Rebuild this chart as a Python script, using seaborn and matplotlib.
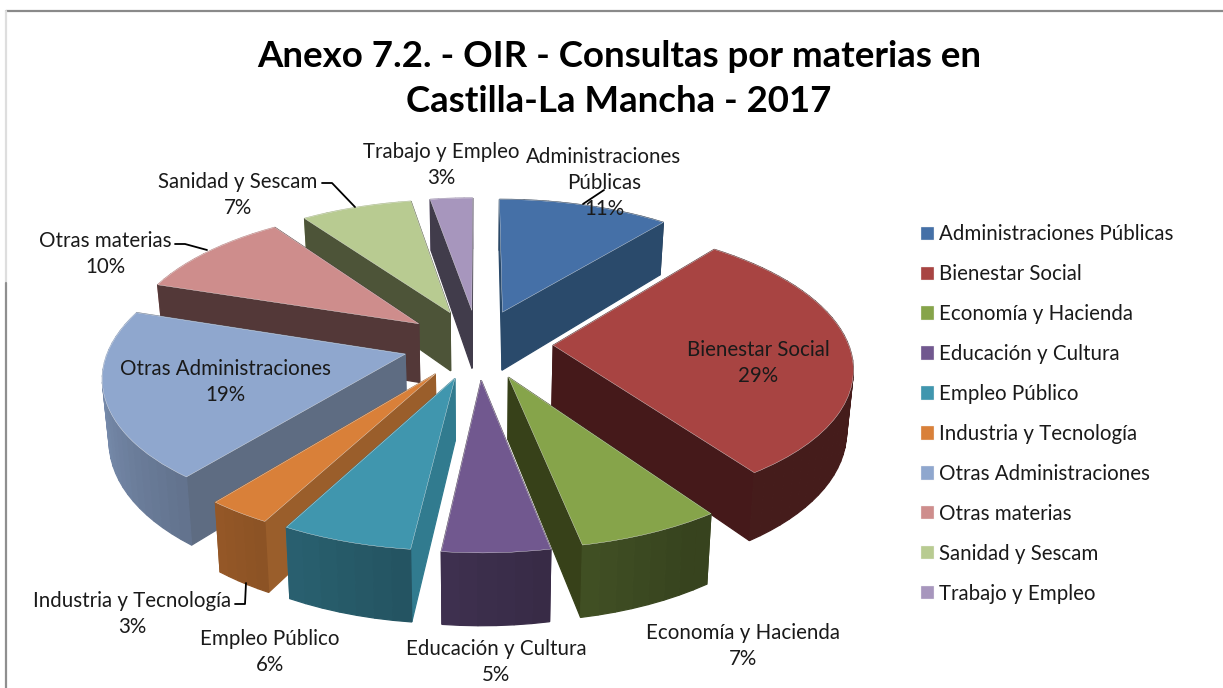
import numpy as np
import matplotlib
matplotlib.use('Agg')
import matplotlib.pyplot as plt
from matplotlib.transforms import Transform
import seaborn as sns

# Data
materias = ['Administraciones Públicas', 'Bienestar Social', 'Economía y Hacienda',
            'Educación y Cultura', 'Empleo Público', 'Industria y Tecnología',
            'Otras Administraciones', 'Otras materias', 'Sanidad y Sescam', 'Trabajo y Empleo']
porcentajes = [10.9, 29.4, 6.6, 4.9, 6.0, 2.95, 19.25, 10.2, 7.1, 2.7]
titulo = 'Anexo 7.2. - OIR - Consultas por materias en\nCastilla-La Mancha - 2017'

# Colours: top face, flat side face
top_colours = ['#4570a7', '#a84442', '#86a44a', '#71588f', '#4096ae',
               '#d98039', '#8fa7ce', '#ce8d8c', '#b8cb91', '#a796bd']
side_colours = ['#2a4a6b', '#45191a', '#374119', '#3d2c4a', '#317b8f',
                '#9a5e2b', '#5e6c82', '#533838', '#4d5438', '#413c4b']

sns.set_theme(style='white')
plt.rcParams['font.family'] = ['Lato', 'DejaVu Sans']

# Projection of the pie plane into image pixels
CX, CY = 478, 344
SCALE_X, SCALE_Y = 295, 137
TILT = 0.141
DEPTH = 60
EXPLODE = 0.255


def project(x, y, z=0.0):
    x, y = np.asarray(x, float), np.asarray(y, float)
    w = 1 + TILT * y
    return CX + SCALE_X * x * (1 - 0.018 * z) / w, CY - SCALE_Y * y / w + z * DEPTH / w


class Perspective(Transform):
    input_dims = output_dims = 2
    is_separable = False

    def transform_non_affine(self, values):
        values = np.asarray(values)
        return np.column_stack(project(values[:, 0], values[:, 1]))


def polar(theta, radius=1.0):
    t = np.radians(theta)
    return radius * np.sin(t), radius * np.cos(t)


fig = plt.figure(figsize=(12.23, 6.88), dpi=100)
ax = fig.add_axes([0, 0, 1, 1])

wedges, _ = ax.pie(porcentajes, colors=sns.color_palette(top_colours), startangle=90,
                   counterclock=False, explode=[EXPLODE] * len(porcentajes))

edges = np.cumsum([0] + porcentajes) * 3.6
mids = (edges[:-1] + edges[1:]) / 2
order = np.argsort(-np.cos(np.radians(mids)))  # back slices first

for rank, i in enumerate(order):
    ax_x, ax_y = polar(mids[i], EXPLODE)
    wedges[i].set_transform(Perspective() + ax.transData)
    wedges[i].set_zorder(3 + rank + 0.5)
    wedges[i].set_edgecolor('#f2f2f2')
    wedges[i].set_linewidth(0.25)

    faces = []
    # flat faces from the slice tip to the rim
    for theta in edges[i:i + 2]:
        ex, ey = polar(theta)
        px = np.array([ax_x, ax_x + ex])
        py = np.array([ax_y, ax_y + ey])
        faces.append((py.mean(), px, py, side_colours[i]))
    # curved rim, shaded along the angle
    angles = np.linspace(edges[i], edges[i + 1], max(6, int((edges[i + 1] - edges[i]) / 2.5)))
    base = np.array(matplotlib.colors.to_rgb(top_colours[i]))
    for a0, a1 in zip(angles[:-1], angles[1:]):
        ex, ey = polar(np.array([a0, a1]))
        px, py = ax_x + ex, ax_y + ey
        shade = np.clip(0.41 + 0.004 * ((a0 + a1) / 2 - 150), 0.41, 0.88)
        faces.append((py.mean() - 0.05, px, py, tuple(base * shade)))

    for _, px, py, colour in sorted(faces, key=lambda f: -f[0]):
        x_top, y_top = project(px, py, 0)
        x_low, y_low = project(px[::-1], py[::-1], 1)
        ax.fill(np.r_[x_top, x_low], np.r_[y_top, y_low], color=colour, lw=0.9, zorder=3 + rank)

ax.set_aspect('auto')
ax.set_xlim(0, 1223)
ax.set_ylim(688, 0)
ax.axis('off')

# Slice labels
label_x = [604, 758, 743, 496, 270, 132, 225, 105, 238, 441]
label_y = [183, 363, 646, 662, 652, 614, 382, 254, 195, 165]
label_names = ['Administraciones\nPúblicas'] + materias[1:]
for name, pct, lx, ly in zip(label_names, porcentajes, label_x, label_y):
    ax.text(lx, ly, f'{name}\n{round(pct)}%', ha='center', va='center', fontsize=14.8,
            color='#1a1a1a', linespacing=1.38, zorder=30)

# Leader lines
leaders = [([583, 604], [204, 190]),
           ([322, 332, 355], [183, 183, 207]),
           ([175, 185, 207], [244, 244, 250]),
           ([235, 245, 246], [604, 604, 583])]
for lx, ly in leaders:
    ax.plot(lx, ly, color='black', lw=1.3, zorder=29)

ax.text(619, 79, titulo, ha='center', va='center', fontsize=26.4, fontweight='bold',
        color='black', linespacing=1.44, zorder=30)

# Chart frame left over from the screenshot
ax.plot([6, 1223], [11, 11], color='#8a8a8a', lw=1.6, zorder=1)
ax.plot([6, 6], [11, 283], color='#dedede', lw=1.6, zorder=1)
ax.plot([6, 6], [283, 688], color='#8f8f8f', lw=1.6, zorder=1)

ax.legend(wedges, materias, loc='upper left', bbox_to_anchor=(921 / 1223, 1 - 224.5 / 688),
          frameon=False, fontsize=14.8, labelspacing=0.97, handlelength=0.62, handleheight=0.62,
          handletextpad=0.27, borderpad=0, borderaxespad=0, labelcolor='#1a1a1a')

plt.savefig('out.png', dpi=100)
plt.close()
